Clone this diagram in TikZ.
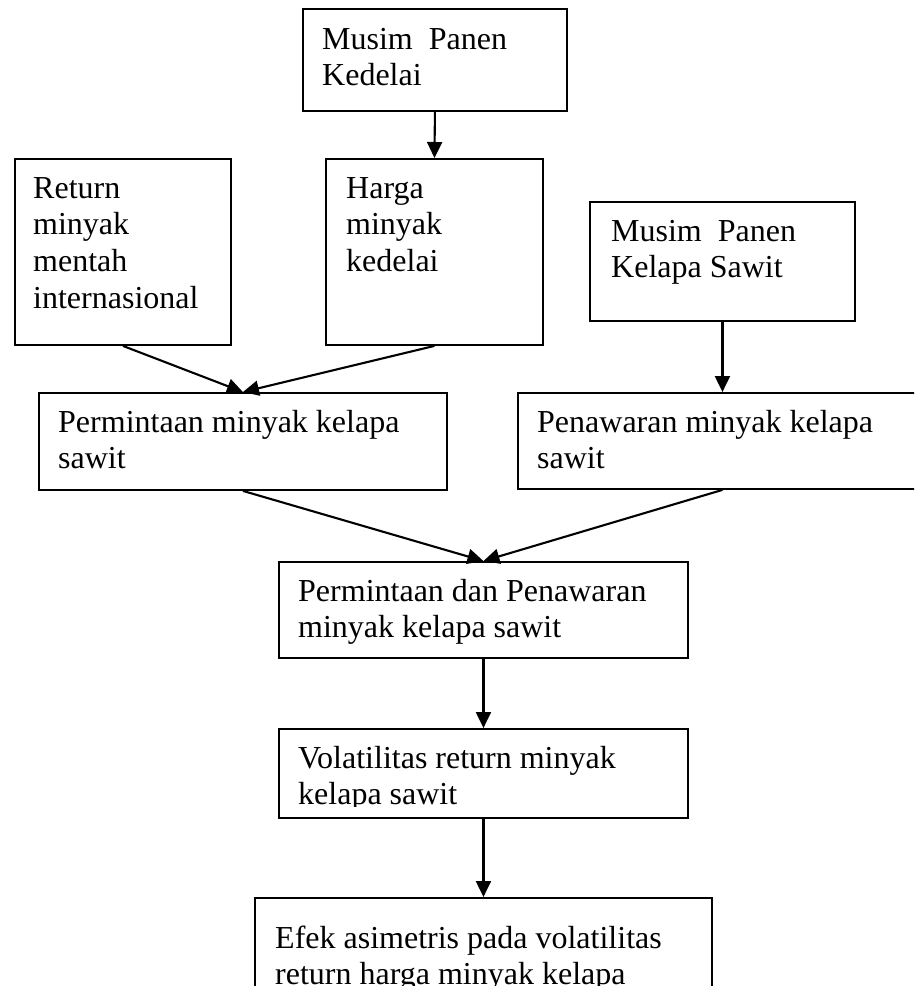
\documentclass[tikz,border=0pt]{standalone}
\usepackage{fontspec}
\setmainfont{Liberation Serif}
\usetikzlibrary{arrows.meta,calc}
\tikzset{
  box/.style={draw, line width=1.9pt, anchor=north west, inner sep=0pt, fill=none},
  txt/.style={anchor=base west, inner sep=0pt, font=\fontsize{32pt}{36.8pt}\selectfont},
  arr/.style={line width=2.1pt, -{Triangle[width=15pt,length=16pt]}}
}
\newcommand{\lines}[1]{\begin{tabular}[t]{@{}l@{}}#1\end{tabular}}
\begin{document}
\begin{tikzpicture}[x=1pt,y=-1pt]
\useasboundingbox (0,0) rectangle (914,986);
\fill[white] (0,0) rectangle (914,986);
\clip (0,0) rectangle (914,986);
% boxes
\node[box, minimum width=264pt, minimum height=102pt] (k1) at (302,8) {};
\node[box, minimum width=216pt, minimum height=186pt] (ret) at (14,158) {};
\node[box, minimum width=217pt, minimum height=186pt] (harga) at (325,158) {};
\node[box, minimum width=265pt, minimum height=119pt] (kel) at (589,201) {};
\node[box, minimum width=408pt, minimum height=97pt] (perm) at (38,392) {};
\node[box, minimum width=409pt, minimum height=96pt] (pen) at (517,392) {};
\node[box, minimum width=409pt, minimum height=96pt] (pdp) at (278,561) {};
\node[box, minimum width=409pt, minimum height=89pt] (vol) at (278,728) {};
\node[box, minimum width=457pt, minimum height=120pt] (efek) at (254,897) {};
% texts
\node[txt] (k1t) at ($(k1.north west)+(20,41)$) {\lines{Musim\ \ Panen\\Kedelai}};
\node[txt] (rett) at ($(ret.north west)+(19,40)$) {\lines{Return\\minyak\\mentah\\internasional}};
\node[txt] (hargat) at ($(harga.north west)+(21,40)$) {\lines{Harga\\minyak\\kedelai}};
\node[txt] (kelt) at ($(kel.north west)+(22,40)$) {\lines{Musim\ \ Panen\\Kelapa Sawit}};
\node[txt] (permt) at ($(perm.north west)+(20,40)$) {\lines{Permintaan minyak kelapa\\sawit}};
\node[txt] (pent) at ($(pen.north west)+(20,40)$) {\lines{Penawaran minyak kelapa\\sawit}};
\node[txt] (pdpt) at ($(pdp.north west)+(20,40)$) {\lines{Permintaan dan Penawaran\\minyak kelapa sawit}};
\begin{scope}
\clip (278,728) rectangle (687,806);
\node[txt] (volt) at ($(vol.north west)+(20,40)$) {\lines{Volatilitas return minyak\\kelapa sawit}};
\end{scope}
\node[txt] (efekt) at ($(efek.north west)+(21,51)$) {\lines{Efek asimetris pada volatilitas\\return harga minyak kelapa}};
% connectors
\draw[arr] (k1.south) -- (harga.north);
\draw[arr] (ret.south) -- (perm.north);
\draw[arr] (harga.south) -- (perm.north);
\draw[arr] (kel.south) -- (pen.north);
\draw[arr] (perm.south) -- (pdp.north);
\draw[arr] (pen.south) -- (pdp.north);
\draw[arr] (pdp.south) -- (vol.north);
\draw[arr] (vol.south) -- (efek.north);
\end{tikzpicture}
\end{document}
